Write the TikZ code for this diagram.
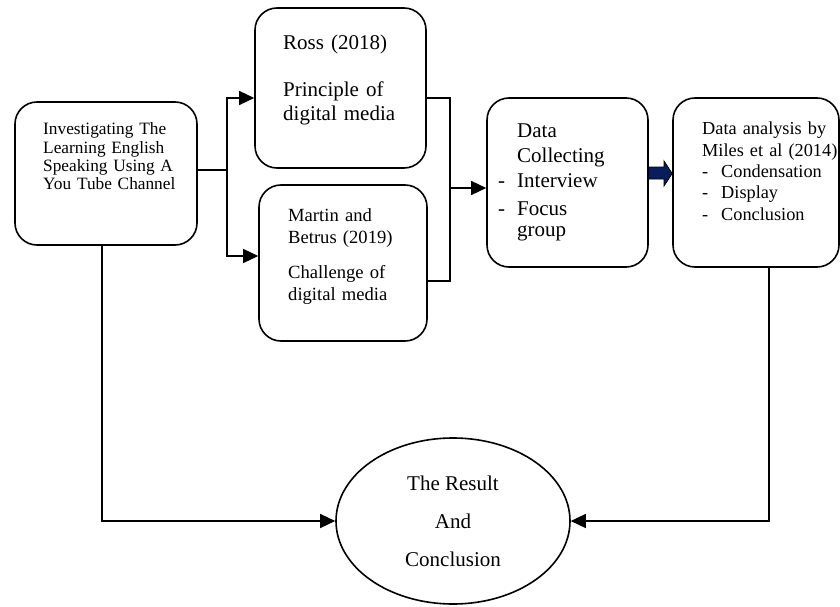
\documentclass[tikz,border=0pt]{standalone}
\usepackage{fontspec}
\setmainfont{Liberation Serif}
\usetikzlibrary{arrows.meta,shapes.geometric}
\definecolor{arrownavy}{RGB}{8,30,92}

\begin{document}
\begin{tikzpicture}[x=1pt,y=-1pt,>={Triangle[length=15pt,width=14pt]},
			stage/.style={
				draw,
				rounded corners=22pt,
				line width=1.6pt,
				inner sep=0pt
			},
			note/.style={anchor=base west,inner sep=0pt,align=left},
			link/.style={line width=1.4pt}]
			
			\useasboundingbox (0,0) rectangle (840,607);
			
			\node[stage,minimum width=182pt,minimum height=143pt] (invest) at (106,173.5){};
			
			\node[stage,minimum width=171pt,minimum height=160pt] (ross) at (340.5,88){};
			
			\node[stage,minimum width=168pt,minimum height=156pt] (martin) at (343,263){};
			
			\node[stage,minimum width=161pt,minimum height=169pt] (data) at (567.5,182.5){};
			
			\node[stage,minimum width=166pt,minimum height=169pt] (analysis) at (756,182.5){};
			
			\node[draw,ellipse,line width=1.6pt,minimum width=234pt,minimum height=166pt,inner sep=0pt,
				align=center,font=\fontsize{21}{38}\selectfont] (result) at (453,521){The Result\\And\\Conclusion};
			
			\node[note,text width=140pt,font=\fontsize{17.3}{18.3}\selectfont] (investtext) at (43,135)
				{\makebox[126pt][s]{Investigating The}\\\makebox[126pt][s]{Learning English}\\\makebox[126pt][s]{Speaking Using A}\\\mbox{You Tube Channel}};
			
			\node[note,text width=140pt,font=\fontsize{21}{23.5}\selectfont] (rosstext) at (283,50)
				{Ross (2018)\\[23.5pt]Principle of\\digital media};
			
			\node[note,text width=135pt,font=\fontsize{18.6}{22}\selectfont] (martintext) at (288,221)
				{Martin and\\Betrus (2019)\\[13pt]Challenge of\\digital media};
			
			\node[note,text width=145pt,font=\fontsize{21}{25}\selectfont] (datatext) at (498,137)
				{\hspace*{19pt}Data\\\hspace*{19pt}Collecting\\\makebox[19pt][l]{-}Interview\\[3pt]\makebox[19pt][l]{-}Focus\\[-3pt]\hspace*{19pt}group};
			
			\node[note,text width=138pt,font=\fontsize{18.3}{21.3}\selectfont] (analysistext) at (702,135)
				{Data analysis by\\Miles et al (2014)\\\makebox[19pt][l]{-}Condensation\\\makebox[19pt][l]{-}Display\\\makebox[19pt][l]{-}Conclusion};
			
			% split to the two theory boxes
			\coordinate (split) at (227,170);
			\draw[link](invest.east |- split)--(split);
			\draw[link,->](split)|-([yshift=-10pt]ross.west);
			\draw[link,->](split)|-([yshift=7pt]martin.west);
			
			% join into data collecting
			\coordinate (join) at (450,188);
			\draw[link]([yshift=-10pt]ross.east)-|(join);
			\draw[link]([yshift=-18pt]martin.east)-|(join);
			\draw[link,->](join)--(data.west |- join);
			
			% block arrow
			\draw[fill=arrownavy,line width=0.8pt](data.east |- 0,167)--(664,167)--(664,161)--(analysis.west |- 0,173.5)
				--(664,186)--(664,179)--(data.east |- 0,179)--cycle;
			
			% down to the result
			\draw[link,->]([xshift=-4pt]invest.south)|-(result.west);
			\draw[link,->]([xshift=13pt]analysis.south)|-(result.east);
			
		\end{tikzpicture}
\end{document}
